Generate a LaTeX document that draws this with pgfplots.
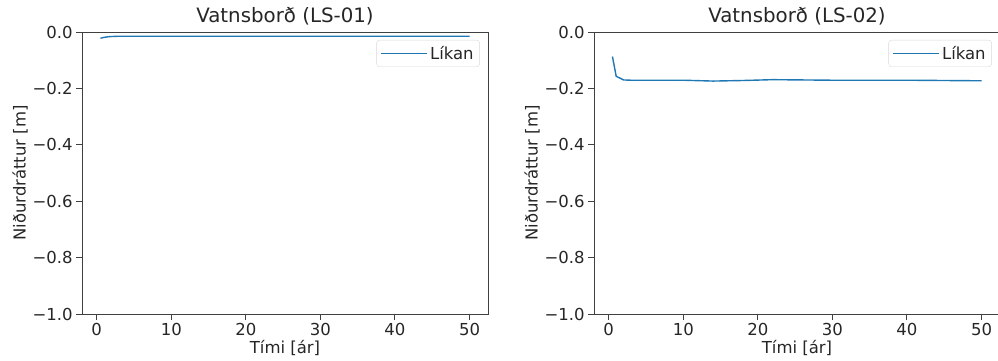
\documentclass[border=0pt]{standalone}
\usepackage{pgfplots}
\pgfplotsset{compat=1.18}
\usepackage{fontspec}
\setmainfont{DejaVu Sans}
\definecolor{c0}{HTML}{1F77B4}
\definecolor{txt}{HTML}{262626}
\pgfplotsset{
  mystyle/.style={
    scale only axis,
    width=406pt, height=282pt,
    xmin=-1.975, xmax=52.475, ymin=-1, ymax=0,
    xtick={0,10,20,30,40,50},
    ytick={-1,-0.8,-0.6,-0.4,-0.2,0},
    yticklabels={−1.0,−0.8,−0.6,−0.4,−0.2,0.0},
    tick pos=left,
    tick align=outside,
    major tick length=5.8pt,
    axis line style={black!75, line width=1pt},
    every tick/.style={black!75, line width=1pt},
    /pgf/number format/assume math mode=true,
    tick label style={font=\fontsize{16.5}{19}\selectfont, text=txt},
    label style={font=\fontsize{16.5}{19}\selectfont, text=txt},
    title style={font=\fontsize{19.8}{23}\selectfont, text=txt, yshift=-3pt},
    xlabel={Tími [ár]},
    ylabel={Niðurdráttur [m]},
    xlabel style={yshift=2pt},
    ylabel style={yshift=-2pt},
    legend style={at={(0.98,0.972)}, anchor=north east, draw=black!15, rounded corners=3pt,
      font=\fontsize{16.5}{19}\selectfont, inner xsep=4pt, inner ysep=4pt},
    legend cell align=left,
  },
  mylegimg/.style={legend image code/.code={%
    \path (-2pt,0pt) -- (44pt,0pt);
    \draw[c0, line width=1.6pt, sharp corners] (0pt,0pt) -- (34pt,0pt);}},
}
\begin{document}
\begin{tikzpicture}[x=1pt,y=1pt]
\useasboundingbox (0,0) rectangle (998,360);
\begin{axis}[mystyle, at={(82pt,46pt)}, anchor=south west, title={Vatnsborð (LS-01)}]
\addplot[c0, line width=1.4pt, mylegimg] coordinates {
(0.5,-0.022) (1,-0.019) (1.5,-0.017) (2,-0.016) (3,-0.015) (5,-0.015) (10,-0.015)
(15,-0.015) (20,-0.015) (25,-0.015) (30,-0.015) (35,-0.015) (40,-0.015) (45,-0.015) (50,-0.015)
};
\addlegendentry{\textcolor{txt}{Líkan}}
\end{axis}
\begin{axis}[mystyle, at={(594pt,46pt)}, anchor=south west, title={Vatnsborð (LS-02)}]
\addplot[c0, line width=1.4pt, mylegimg] coordinates {
(0.5,-0.087) (1,-0.157) (2,-0.170) (3,-0.171) (5,-0.171) (8,-0.171) (10,-0.171)
(14,-0.174) (18,-0.172) (22,-0.169) (26,-0.170) (30,-0.171) (35,-0.171) (40,-0.171) (45,-0.172) (50,-0.173)
};
\addlegendentry{\textcolor{txt}{Líkan}}
\end{axis}
\end{tikzpicture}
\end{document}
